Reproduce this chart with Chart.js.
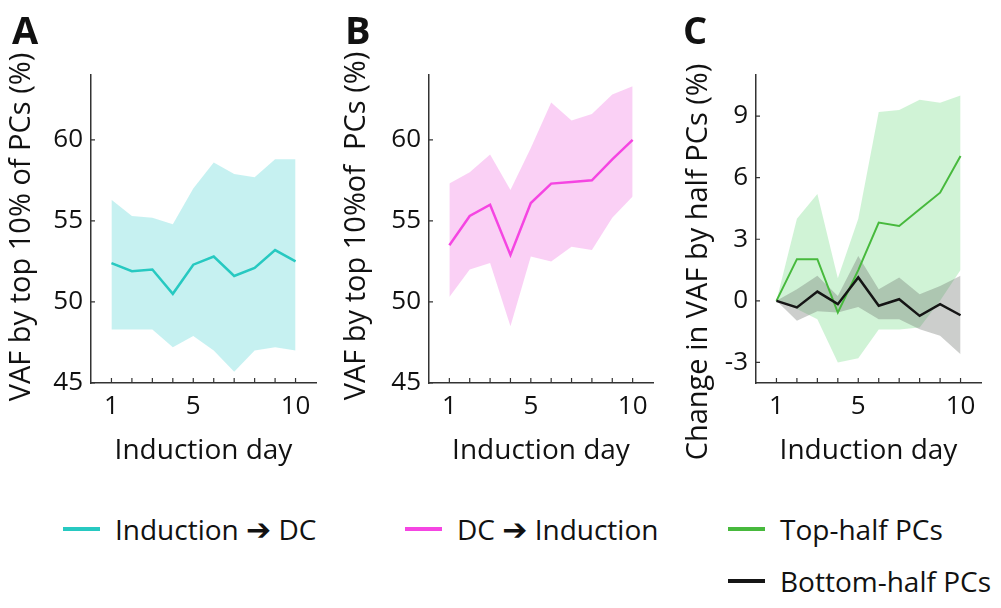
<!DOCTYPE html>
<html><head><meta charset="utf-8">
<script src="https://cdn.jsdelivr.net/npm/chart.js@4.4.1/dist/chart.umd.min.js"></script>
<style>
html,body{margin:0;padding:0;background:#fff;}
body{width:1001px;height:608px;position:relative;overflow:hidden;font-family:"Open Sans",sans-serif;color:#111;}
.panel{position:absolute;top:0;}
.letter{position:absolute;font-weight:700;font-size:38px;line-height:38px;top:10px;}
.leg{position:absolute;display:flex;align-items:center;height:28px;font-size:28px;line-height:28px;white-space:nowrap;color:#111;}
.sw{width:37px;height:4px;margin-right:15px;}
.arr{font-family:"DejaVu Sans",sans-serif;font-weight:700;font-size:30px;}
</style></head><body>
<div class="panel" style="left:0;width:335px;height:480px"><canvas id="cA" width="335" height="480"></canvas></div>
<div class="panel" style="left:335px;width:330px;height:480px"><canvas id="cB" width="330" height="480"></canvas></div>
<div class="panel" style="left:665px;width:336px;height:480px"><canvas id="cC" width="336" height="480"></canvas></div>
<div id="letters"></div>
<div id="legend"></div>
<script>
// ---- data ----
const days = [1, 2, 3, 4, 5, 6, 7, 8, 9, 10];
const labelledDays = [1, 5, 10];
const yTicksVAF = [45, 50, 55, 60];
const yTicksChange = [-3, 0, 3, 6, 9];

const inductionToDC      = [52.4, 51.9, 52.0, 50.5, 52.3, 52.8, 51.6, 52.1, 53.2, 52.5];
const inductionToDCUpper = [56.3, 55.3, 55.2, 54.8, 57.0, 58.6, 57.9, 57.7, 58.8, 58.8];
const inductionToDCLower = [48.3, 48.3, 48.3, 47.2, 47.9, 47.0, 45.7, 47.0, 47.2, 47.0];

const dcToInduction      = [53.5, 55.3, 56.0, 52.9, 56.1, 57.3, 57.4, 57.5, 58.8, 60.0];
const dcToInductionUpper = [57.3, 58.0, 59.1, 56.9, 59.5, 62.3, 61.2, 61.6, 62.8, 63.3];
const dcToInductionLower = [50.3, 52.0, 52.4, 48.5, 52.8, 52.5, 53.4, 53.2, 55.2, 56.5];

const topHalf      = [0, 2.03, 2.03, -0.57, 1.5, 3.81, 3.65, 4.46, 5.27, 7.06];
const topHalfUpper = [0, 4.0, 5.2, 1.1, 4.0, 9.2, 9.3, 9.8, 9.65, 10.0];
const topHalfLower = [0, -0.4, -0.9, -3.0, -2.8, -1.4, -1.4, -1.3, 0.0, 1.5];

const bottomHalf      = [0, -0.32, 0.45, -0.16, 1.14, -0.24, 0.08, -0.73, -0.16, -0.70];
const bottomHalfUpper = [0, 0.57, 1.22, 0.24, 2.19, 0.57, 1.14, 0.32, 0.73, 1.22];
const bottomHalfLower = [0, -0.97, -0.5, -0.57, -0.3, -0.89, -0.89, -1.38, -1.7, -2.6];

const seriesNames = [['Induction', 'DC'], ['DC', 'Induction'], ['Top-half PCs'], ['Bottom-half PCs']];
const arrowChar = '\u2794';
const seriesColors = ['#27c9c1', '#f545e2', '#47b93d', '#151515'];
const yTitles = ['VAF by top 10% of PCs (%)', 'VAF by top 10%of  PCs (%)', 'Change in VAF by half PCs (%)'];
const xTitle = 'Induction day';
const panelLetters = ['A', 'B', 'C'];

// ---- helpers ----
const pts = arr => days.map((d, i) => ({ x: d, y: arr[i] }));
const FONT = '"Open Sans", sans-serif';

const lineDs = (arr, color, w) => ({ data: pts(arr), borderColor: color, borderWidth: w, pointRadius: 0, fill: false, tension: 0 });
const bandUpper = (arr, color) => ({ data: pts(arr), borderWidth: 0, borderColor: 'rgba(0,0,0,0)', pointRadius: 0, fill: '+1', backgroundColor: color, tension: 0 });
const bandLower = (arr) => ({ data: pts(arr), borderWidth: 0, borderColor: 'rgba(0,0,0,0)', pointRadius: 0, fill: false, tension: 0 });

const innerTicks = {
  id: 'innerTicks',
  afterDraw(chart) {
    const { ctx, chartArea, scales } = chart;
    ctx.save();
    ctx.strokeStyle = '#333';
    ctx.lineWidth = 1.2;
    ctx.beginPath();
    scales.x.ticks.forEach(t => {
      const px = scales.x.getPixelForValue(t.value);
      ctx.moveTo(px, chartArea.bottom);
      ctx.lineTo(px, chartArea.bottom - 5);
    });
    scales.y.ticks.forEach(t => {
      const py = scales.y.getPixelForValue(t.value);
      ctx.moveTo(chartArea.left, py);
      ctx.lineTo(chartArea.left + 4, py);
    });
    ctx.stroke();
    ctx.restore();
  }
};

const yAxisTitle = {
  id: 'yAxisTitle',
  afterDraw(chart, args, opts) {
    const { ctx } = chart;
    ctx.save();
    ctx.translate(opts.x, opts.y);
    ctx.rotate(-Math.PI / 2);
    ctx.font = '29px ' + FONT;
    ctx.fillStyle = '#111';
    ctx.textAlign = 'center';
    ctx.textBaseline = 'middle';
    ctx.fillText(opts.text, 0, 0);
    ctx.restore();
  }
};

function makeChart(id, datasets, p) {
  return new Chart(document.getElementById(id), {
    type: 'line',
    data: { datasets },
    plugins: [innerTicks, yAxisTitle],
    options: {
      responsive: false,
      animation: false,
      events: [],
      layout: { padding: { top: 75, right: p.padRight, left: 0, bottom: 0 } },
      plugins: {
        legend: { display: false },
        tooltip: { enabled: false },
        yAxisTitle: { text: p.yTitle, x: p.titleX, y: p.titleY }
      },
      scales: {
        x: {
          type: 'linear', min: 0, max: 11,
          afterBuildTicks: s => { s.ticks = days.map(v => ({ value: v })); },
          afterFit: s => { s.height = 97; },
          grid: { display: false, drawTicks: false },
          border: { display: true, color: '#333', width: 1.5 },
          ticks: {
            autoSkip: false, maxRotation: 0, padding: 8, color: '#111',
            font: { family: FONT, size: 26 },
            callback: v => labelledDays.includes(v) ? String(v) : ''
          },
          title: { display: true, text: xTitle, color: '#111', font: { family: FONT, size: 28 }, padding: { top: 0, bottom: 12 } }
        },
        y: {
          type: 'linear', min: p.yMin, max: p.yMax,
          afterBuildTicks: s => { s.ticks = p.yTicks.map(v => ({ value: v })); },
          afterFit: s => { s.width = p.yWidth; },
          grid: { display: false, drawTicks: false },
          border: { display: true, color: '#333', width: 1.5 },
          ticks: { padding: 8, color: '#111', font: { family: FONT, size: 26 } }
        }
      }
    }
  });
}

makeChart('cA', [
  lineDs(inductionToDC, seriesColors[0], 2.5),
  bandUpper(inductionToDCUpper, 'rgba(120,222,222,0.42)'),
  bandLower(inductionToDCLower)
], { padRight: 19, yWidth: 91, yMin: 45, yMax: 64, yTicks: yTicksVAF, yTitle: yTitles[0], titleX: 22, titleY: 227 });

makeChart('cB', [
  lineDs(dcToInduction, seriesColors[1], 2.5),
  bandUpper(dcToInductionUpper, 'rgba(244,150,232,0.45)'),
  bandLower(dcToInductionLower)
], { padRight: 12, yWidth: 94, yMin: 45, yMax: 64, yTicks: yTicksVAF, yTitle: yTitles[1], titleX: 22, titleY: 226 });

makeChart('cC', [
  lineDs(bottomHalf, seriesColors[3], 2.5),
  lineDs(topHalf, seriesColors[2], 2),
  bandUpper(bottomHalfUpper, 'rgba(110,115,110,0.35)'),
  bandLower(bottomHalfLower),
  bandUpper(topHalfUpper, 'rgba(150,228,165,0.45)'),
  bandLower(topHalfLower)
], { padRight: 20, yWidth: 91, yMin: -4, yMax: 11, yTicks: yTicksChange, yTitle: yTitles[2], titleX: 34, titleY: 262 });

// ---- panel letters ----
const letterX = [12, 345, 683];
const lettersDiv = document.getElementById('letters');
panelLetters.forEach((L, i) => {
  const d = document.createElement('div');
  d.className = 'letter';
  d.style.left = letterX[i] + 'px';
  d.textContent = L;
  lettersDiv.appendChild(d);
});

// ---- legend (HTML) ----
const legendPos = [[63, 515], [405, 515], [728, 515], [728, 567]];
const legend = document.getElementById('legend');
seriesNames.forEach((parts, i) => {
  const item = document.createElement('div');
  item.className = 'leg';
  item.style.left = legendPos[i][0] + 'px';
  item.style.top = legendPos[i][1] + 'px';
  const sw = document.createElement('span');
  sw.className = 'sw';
  sw.style.background = seriesColors[i];
  item.appendChild(sw);
  const tx = document.createElement('span');
  tx.appendChild(document.createTextNode(parts[0]));
  if (parts.length > 1) {
    tx.appendChild(document.createTextNode(' '));
    const a = document.createElement('span');
    a.className = 'arr';
    a.textContent = arrowChar;
    tx.appendChild(a);
    tx.appendChild(document.createTextNode(' ' + parts[1]));
  }
  item.appendChild(tx);
  legend.appendChild(item);
});
</script>
</body></html>
